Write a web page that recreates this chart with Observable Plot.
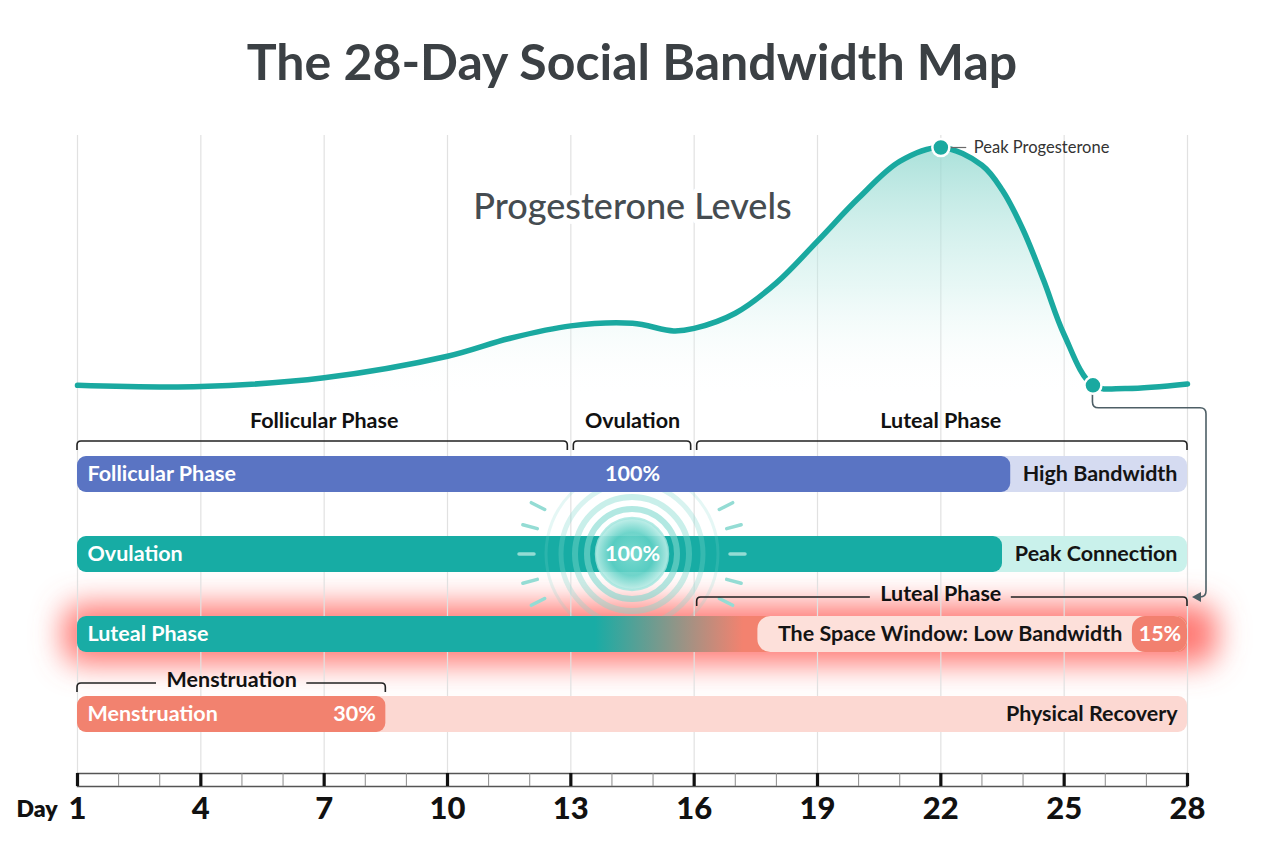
<!DOCTYPE html>
<html>
<head>
<meta charset="utf-8">
<script src="https://cdn.jsdelivr.net/npm/d3@7"></script>
<script src="https://cdn.jsdelivr.net/npm/@observablehq/plot@0.6"></script>
<style>
  body { margin: 0; background: #fff; font-family: Lato, "Noto Sans", sans-serif; }
  #wrap { position: relative; width: 1264px; height: 848px; overflow: hidden; background: #fff; }
  #title { position: absolute; top: 36px; left: 0; width: 1264px; margin: 0; text-align: center;
           font-size: 50px; line-height: 50px; font-weight: 700; color: #3b4044; }
  .layer { position: absolute; left: 0; top: 100px; }
</style>
</head>
<body>
<svg width="0" height="0" style="position:absolute">
  <defs>
    <linearGradient id="progFill" x1="0" y1="0" x2="0" y2="1">
      <stop offset="0" stop-color="#8ed7ce" stop-opacity="0.75"/>
      <stop offset="0.55" stop-color="#c4ece7" stop-opacity="0.4"/>
      <stop offset="1" stop-color="#ffffff" stop-opacity="0"/>
    </linearGradient>
    <linearGradient id="lutealFade" gradientUnits="userSpaceOnUse" x1="600" y1="0" x2="745" y2="0">
      <stop offset="0" stop-color="#19aca5"/>
      <stop offset="1" stop-color="#f3826f"/>
    </linearGradient>
    <radialGradient id="pulseCore">
      <stop offset="0" stop-color="#7fdcd2" stop-opacity="0.95"/>
      <stop offset="0.6" stop-color="#5fd0c5" stop-opacity="0.9"/>
      <stop offset="1" stop-color="#bdeee8" stop-opacity="0.9"/>
    </radialGradient>
    <filter id="glowBlur" x="-10%" y="-200%" width="120%" height="500%">
      <feGaussianBlur stdDeviation="15"/>
    </filter>
  </defs>
</svg>
<div id="wrap"><h1 id="title">The 28-Day Social Bandwidth Map</h1></div>
<script>
// ---------- data ----------
const majorDays = [1, 4, 7, 10, 13, 16, 19, 22, 25, 28];
const cycleDays = [1, 2, 3, 4, 5, 6, 7, 8, 9, 10, 11, 12, 13, 14, 15, 16, 17, 18, 19, 20, 21, 22, 23, 24, 25, 26, 27, 28];

// progesterone curve (ng/mL)
const progDays   = [1, 4, 7, 10, 11.5, 13, 14.5, 15.5, 16, 17, 18, 19, 20, 21, 22, 23, 23.5, 24, 24.5, 25, 25.7, 26.5, 28];
const progLevels = [1.2, 1.1, 1.8, 3.5, 4.9, 5.9, 6.1, 5.5, 5.7, 6.9, 9.3, 12.6, 16.0, 18.9, 20, 18.6, 16.6, 13.5, 9.5, 5.2, 1.2, 0.95, 1.3];
const peakDay = 22, peakLevel = 20;
const dropDay = 25.7, dropLevel = 1.2;

// phases of the cycle
const phaseNames = ["Follicular Phase", "Ovulation", "Luteal Phase"];
const phaseStart = [1, 13, 16];
const phaseEnd   = [13, 16, 28];

// bandwidth lanes
const laneNames   = ["Follicular Phase", "Ovulation", "Luteal Phase", "Menstruation"];
const laneStatus  = ["High Bandwidth", "Peak Connection", "The Space Window: Low Bandwidth", "Physical Recovery"];
const lanePercent = [100, 100, 15, 30];
const laneEnd     = [23.7, 23.5, 28, 8.5];   // day where the solid bar stops
const mensesEnd   = 8.5;

// ---------- derived tables ----------
const first = majorDays[0], last = majorDays[majorDays.length - 1];
const prog = progDays.map((day, i) => ({day, level: progLevels[i]}));
const phases = phaseNames.map((name, i) => ({name, start: phaseStart[i], end: phaseEnd[i]}));
const rows = laneNames.map((name, i) => ({name, status: laneStatus[i], pct: lanePercent[i], end: laneEnd[i]}));
const lane = n => rows.filter(d => d.name === n);
const ovCenter = (phaseStart[1] + phaseEnd[1]) / 2;
const luteal = phases[2];

// layout of the luteal label pill (in days)
const windowStart = 17.55, pctStart = 26.66;
const fadeFrom = 13.6, fadeTo = 17.2;

const teal = "#1aa9a0";
const glowColor = "#ff6a64";
const laneStyle = {
  "Follicular Phase": {bar: "#5a74c3", track: "#d5dbf1"},
  "Ovulation":        {bar: "#17aca4", track: "#c9f1eb"},
  "Luteal Phase":     {bar: "url(#lutealFade)", track: "none"},
  "Menstruation":     {bar: "#f2826f", track: "#fcd8d2"}
};
const font = "Lato, 'Noto Sans', sans-serif";
const labelSize = 21.5;

// text width helper for gaps in bracket lines
const measureCtx = document.createElement("canvas").getContext("2d");
function textWidth(s, size, weight) { measureCtx.font = `${weight} ${size}px Lato`; return measureCtx.measureText(s).width; }

// ---------- progesterone curve ----------
const curve = Plot.plot({
  width: 1264, height: 300,
  marginLeft: 77, marginRight: 77, marginTop: 47, marginBottom: 0,
  x: {domain: [first, last], axis: null},
  y: {domain: [0, 20], axis: null},
  style: {background: "transparent", overflow: "visible", fontFamily: font},
  marks: [
    Plot.areaY(prog, {x: "day", y: "level", curve: "catmull-rom", fill: "url(#progFill)"}),
    Plot.text(["Progesterone Levels"], {frameAnchor: "top", dy: 60, lineAnchor: "middle", fontSize: 36, fontWeight: 500,
      fill: "#454c51", stroke: "white", strokeWidth: 10}),
    Plot.line(prog, {x: "day", y: "level", curve: "catmull-rom", stroke: teal, strokeWidth: 5.5, strokeLinecap: "round"}),
    Plot.ruleY([{day: peakDay, level: peakLevel}], {y: "level", x1: d => d.day + 0.2, x2: d => d.day + 0.63, stroke: "#6a6a6a", strokeWidth: 1.2}),
    Plot.dot([{day: peakDay, level: peakLevel}, {day: dropDay, level: dropLevel}], {x: "day", y: "level", r: 8.5, fill: teal, stroke: "white", strokeWidth: 2.5}),
    Plot.text([{day: peakDay, level: peakLevel}], {x: "day", y: "level", text: () => "Peak Progesterone", dx: 33, textAnchor: "start", fontSize: 16.5, fill: "#333"})
  ]
});
const curveY = curve.scale("y");

// ---------- custom marks drawn with the plot's scales ----------
function center(y, name) { return y(name) + y.bandwidth() / 2; }

const pulseMark = (index, {x, y}) => {
  const g = d3.create("svg:g");
  const cx = x(ovCenter), cy = center(y, "Ovulation");
  [[86, 3, 0.2], [71, 5, 0.3], [57, 6, 0.42], [45, 6, 0.6]].forEach(([r, w, o]) =>
    g.append("circle").attr("cx", cx).attr("cy", cy).attr("r", r).attr("fill", "none")
      .attr("stroke", "#7fd8ce").attr("stroke-width", w).attr("stroke-opacity", o));
  g.append("circle").attr("cx", cx).attr("cy", cy).attr("r", 36).attr("fill", "url(#pulseCore)")
    .attr("stroke", "#a4e6de").attr("stroke-width", 2.5).attr("stroke-opacity", 0.8);
  for (const side of [-1, 1]) {
    for (const a of [-27, -15, 0, 15, 27]) {
      const t = a * Math.PI / 180;
      const r0 = 98, r1 = 113;
      g.append("line")
        .attr("x1", cx + side * r0 * Math.cos(t)).attr("y1", cy + r0 * Math.sin(t))
        .attr("x2", cx + side * r1 * Math.cos(t)).attr("y2", cy + r1 * Math.sin(t))
        .attr("stroke", "#94dcd4").attr("stroke-width", 3.5).attr("stroke-linecap", "round");
    }
  }
  return g.node();
};

function bracket(g, x1, x2, yl, gap) {
  const drop = 9, r = 4;
  const p = d3.path();
  p.moveTo(x1, yl + drop); p.lineTo(x1, yl + r); p.quadraticCurveTo(x1, yl, x1 + r, yl);
  if (gap) { p.lineTo(gap[0], yl); p.moveTo(gap[1], yl); }
  p.lineTo(x2 - r, yl); p.quadraticCurveTo(x2, yl, x2, yl + r); p.lineTo(x2, yl + drop);
  g.append("path").attr("d", p.toString()).attr("fill", "none").attr("stroke", "#222").attr("stroke-width", 1.6);
}

const bracketMark = (index, {x, y}) => {
  const g = d3.create("svg:g");
  // phase brackets above the first lane
  const yTop = center(y, laneNames[0]) - 33;
  phases.forEach((p, i) => {
    const x1 = x(p.start) + (i > 0 ? 3 : 0);
    const x2 = x(p.end) - (i < phases.length - 1 ? 3 : 0);
    bracket(g, x1, x2, yTop);
  });
  // luteal bracket with inline label
  {
    const yl = center(y, "Luteal Phase") - 37, mid = x((luteal.start + luteal.end) / 2);
    const w = textWidth(luteal.name, labelSize, 700) / 2 + 10;
    bracket(g, x(luteal.start) + 3, x(luteal.end), yl, [mid - w, mid + w]);
  }
  // menstruation bracket with inline label
  {
    const yl = center(y, "Menstruation") - 31, mid = x((first + mensesEnd) / 2);
    const w = textWidth("Menstruation", labelSize, 700) / 2 + 10;
    bracket(g, x(first), x(mensesEnd), yl, [mid - w, mid + w]);
  }
  return g.node();
};

const connectorMark = (index, {x, y}) => {
  const g = d3.create("svg:g");
  const xs = x(dropDay), ys = curveY.apply(dropLevel) + 9;
  const ye = ys + 14, r = 6;
  const xr = x(last) + 19, xe = x(last) + 5;
  const yb = center(y, "Luteal Phase") - 37;
  const p = d3.path();
  p.moveTo(xs, ys); p.lineTo(xs, ye - r); p.quadraticCurveTo(xs, ye, xs + r, ye);
  p.lineTo(xr - r, ye); p.quadraticCurveTo(xr, ye, xr, ye + r);
  p.lineTo(xr, yb - r); p.quadraticCurveTo(xr, yb, xr - r, yb); p.lineTo(xe + 6, yb);
  g.append("path").attr("d", p.toString()).attr("fill", "none").attr("stroke", "#4e5f66").attr("stroke-width", 1.6);
  g.append("path").attr("d", `M${xe},${yb} L${xe + 9},${yb - 5} L${xe + 9},${yb + 5} Z`).attr("fill", "#4e5f66");
  return g.node();
};

// ---------- lanes, brackets and day axis ----------
const lower = Plot.plot({
  width: 1264, height: 748,
  marginLeft: 77, marginRight: 77, marginTop: 35, marginBottom: 75,
  x: {domain: [first, last], axis: null},
  y: {type: "band", domain: laneNames, range: [356, 632], paddingInner: 0.55, paddingOuter: 0, axis: null},
  color: {type: "identity"},
  style: {background: "transparent", overflow: "visible", fontFamily: font},
  marks: [
    // red halo around the low-bandwidth lane
    Plot.barX(lane("Luteal Phase"), {x1: () => first, x2: () => last, y: "name", fill: glowColor, fillOpacity: 0.9,
      rx: 18, insetTop: -12, insetBottom: -12, insetLeft: -14, insetRight: -30}),
    Plot.ruleX(majorDays, {stroke: "#e1e1e1", strokeWidth: 1.2}),
    // light tracks
    Plot.barX(rows.filter(d => d.end < last), {x1: () => first, x2: () => last, y: "name", fill: d => laneStyle[d.name].track, rx: 9}),
    Plot.barX(lane("Ovulation"), {x1: () => first, x2: "end", y: "name", fill: d => laneStyle[d.name].bar, rx: 9}),
    pulseMark,
    Plot.barX(lane("Follicular Phase").concat(lane("Menstruation")), {x1: () => first, x2: "end", y: "name", fill: d => laneStyle[d.name].bar, rx: 9}),
    Plot.barX(lane("Luteal Phase"), {x1: () => first, x2: "end", y: "name", fill: d => laneStyle[d.name].bar, rx: 9}),
    Plot.barX(lane("Luteal Phase"), {x1: () => windowStart, x2: "end", y: "name", fill: "#fde3de", fillOpacity: 0.97, rx: 13}),
    Plot.barX(lane("Luteal Phase"), {x1: () => pctStart, x2: "end", y: "name", fill: "#f2806f", rx: 13}),
    // lane labels
    Plot.text(rows, {x: () => first, y: "name", text: "name", dx: 10, textAnchor: "start", fill: "white", fontSize: labelSize, fontWeight: 700}),
    Plot.text(rows, {x: d => d.name === "Luteal Phase" ? pctStart : last, y: "name", text: "status",
      dx: -10, textAnchor: "end", fill: "#141414", fontSize: labelSize, fontWeight: 700}),
    Plot.text(rows.filter(d => d.name !== "Menstruation"), {
      x: d => d.name === "Luteal Phase" ? (pctStart + d.end) / 2 : ovCenter, y: "name",
      text: d => `${d.pct}%`, fill: "white", fontSize: labelSize, fontWeight: 700}),
    Plot.text(lane("Menstruation"), {x: "end", y: "name", text: d => `${d.pct}%`, dx: -10, textAnchor: "end", fill: "white", fontSize: labelSize, fontWeight: 700}),
    // brackets and their labels
    bracketMark,
    Plot.text(phases, {x: d => (d.start + d.end) / 2, y: () => laneNames[0], dy: -53, text: "name", fill: "#111", fontSize: labelSize, fontWeight: 700}),
    Plot.text([luteal], {x: d => (d.start + d.end) / 2, y: () => "Luteal Phase", dy: -40, text: "name", fill: "#111", fontSize: labelSize, fontWeight: 700}),
    Plot.text(["Menstruation"], {x: () => (first + mensesEnd) / 2, y: () => "Menstruation", dy: -34, text: d => d, fill: "#111", fontSize: labelSize, fontWeight: 700}),
    connectorMark,
    // day ruler
    Plot.frame({anchor: "bottom", stroke: "#555", strokeWidth: 1.5}),
    Plot.frame({anchor: "bottom", stroke: "#555", strokeWidth: 1.5, dy: 13}),
    Plot.axisX(cycleDays, {tickSize: 13, stroke: "#8a8a8a", strokeWidth: 1, tickFormat: () => "", label: null}),
    Plot.axisX(majorDays, {tickSize: 13, stroke: "#111", strokeWidth: 3.2, tickFormat: () => "", label: null}),
    Plot.text(majorDays, {x: d => d, frameAnchor: "bottom", dy: 36, lineAnchor: "middle", fontSize: 31, fontWeight: 900, fill: "#111"}),
    Plot.text(["Day"], {frameAnchor: "bottom-left", dx: -61, dy: 36, lineAnchor: "middle", textAnchor: "start", fontSize: 23, fontWeight: 800, fill: "#111"})
  ]
});

// finishing touches that need the computed scales
const xs = lower.scale("x");
const fade = document.getElementById("lutealFade");
fade.setAttribute("x1", xs.apply(fadeFrom));
fade.setAttribute("x2", xs.apply(fadeTo));
for (const g of lower.querySelectorAll("g")) {
  if ((g.getAttribute("fill") || "").toLowerCase() === glowColor) g.setAttribute("filter", "url(#glowBlur)");
}

lower.classList.add("layer");
curve.classList.add("layer");
const wrap = document.getElementById("wrap");
wrap.appendChild(lower);
wrap.appendChild(curve);
</script>
</body>
</html>
